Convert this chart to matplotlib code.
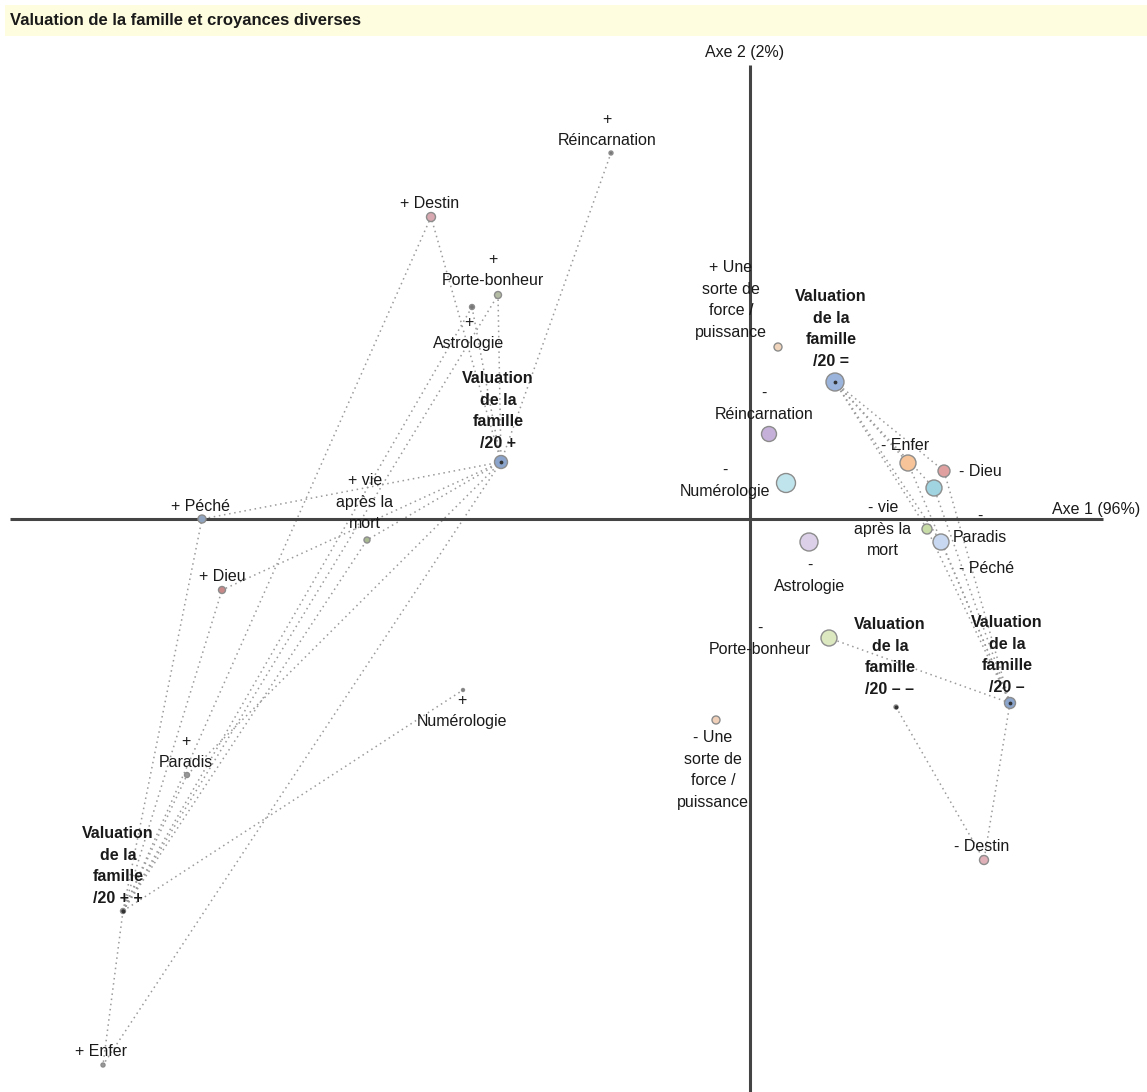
"""
Analyse des correspondances : valuation de la famille et croyances diverses.
"""
import matplotlib
matplotlib.use("Agg")
import matplotlib.pyplot as plt
import matplotlib.patches as mpatches

plt.rcParams["font.family"] = ["Liberation Sans", "DejaVu Sans"]

# -----------------------------------------------------------------------
# Data : coordonnées sur les axes 1 et 2, poids (rayon des bulles)
# -----------------------------------------------------------------------
names = [
    "Reinc+", "Destin+", "PB+", "Astro+", "V+", "Vie+", "Peche+", "Dieu+",
    "Numero+", "Paradis+", "V++", "Enfer+",
    "Force+", "V=", "Reinc-", "Numero-", "Enfer-", "Dieu-", "Peche-", "Vie-",
    "Paradis-", "Astro-", "PB-", "Force-", "V--", "V-", "Destin-",
]
labels = [
    "+\nRéincarnation", "+ Destin", "+\nPorte-bonheur", "+\nAstrologie",
    "Valuation\nde la\nfamille\n/20 +", "+ vie\naprès la\nmort", "+ Péché", "+ Dieu",
    "+\nNumérologie", "+\nParadis", "Valuation\nde la\nfamille\n/20 + +", "+ Enfer",
    "+ Une\nsorte de\nforce /\npuissance", "Valuation\nde la\nfamille\n/20 =",
    "-\nRéincarnation", "-\nNumérologie", "- Enfer", "- Dieu", "- Péché",
    "- vie\naprès la\nmort", "-\nParadis", "-\nAstrologie", "-\nPorte-bonheur",
    "- Une\nsorte de\nforce /\npuissance", "Valuation\nde la\nfamille\n/20 – –",
    "Valuation\nde la\nfamille\n/20 –", "- Destin",
]
axe1 = [
    -0.139, -0.319, -0.252, -0.278, -0.249, -0.383, -0.548, -0.528,
    -0.287, -0.563, -0.627, -0.647,
    0.028, 0.085, 0.019, 0.036, 0.158, 0.194, 0.184, 0.177,
    0.191, 0.059, 0.079, -0.034, 0.146, 0.260, 0.234,
]
axe2 = [
    0.366, 0.302, 0.224, 0.212, 0.057, -0.021, 0.000, -0.071,
    -0.171, -0.256, -0.392, -0.546,
    0.172, 0.137, 0.085, 0.036, 0.056, 0.048, 0.031, -0.010,
    -0.023, -0.023, -0.119, -0.201, -0.188, -0.184, -0.341,
]
poids = [
    2, 4.5, 3.5, 2.5, 6.5, 3, 4, 3.5,
    1.5, 2.5, 2.5, 2,
    4, 9, 7.5, 9.5, 8, 6, 8, 5,
    8, 9, 8, 4, 2, 5.5, 4.5,
]
valuation = ["V+", "V++", "V=", "V-", "V--"]

# liens entre modalités de valuation et croyances
links = [
    ("V+", "Reinc+"), ("V+", "Destin+"), ("V+", "PB+"), ("V+", "Astro+"),
    ("V+", "Vie+"), ("V+", "Peche+"), ("V+", "Dieu+"), ("V+", "Enfer+"),
    ("V+", "Paradis+"),
    ("V++", "Destin+"), ("V++", "PB+"), ("V++", "Astro+"), ("V++", "Vie+"),
    ("V++", "Peche+"), ("V++", "Dieu+"), ("V++", "Paradis+"),
    ("V++", "Numero+"), ("V++", "Enfer+"),
    ("V=", "Enfer-"), ("V=", "Dieu-"), ("V=", "Peche-"), ("V=", "Vie-"),
    ("V=", "Paradis-"),
    ("V-", "Enfer-"), ("V-", "Dieu-"), ("V-", "Peche-"), ("V-", "Vie-"),
    ("V-", "Paradis-"), ("V-", "PB-"), ("V-", "Destin-"),
    ("V--", "Destin-"),
]

# -----------------------------------------------------------------------
# Style
# -----------------------------------------------------------------------
colors = [
    "#777777", "#d8a8b0", "#b4bca4", "#777777", "#8aa4cc", "#a8b890", "#90a4c0", "#c88888",
    "#777777", "#999999", "#555555", "#999999",
    "#f0d4bc", "#9ab4dc", "#c4b0d8", "#c0e4ec", "#f6c498", "#e0a0a0", "#a0d4e0", "#c8dca8",
    "#c8d8f0", "#dccfe8", "#dce8c0", "#f0d0b8", "#555555", "#8aa4cc", "#e0b0b8",
]
# décalage des étiquettes, en pixels (dx, dy)
label_offsets = {
    "Reinc+": (-4, 23), "Destin+": (-1, 14), "PB+": (-5, 25), "Astro+": (-3, -26),
    "V+": (-3, 51), "Vie+": (-2, 38), "Peche+": (-1, 13), "Dieu+": (0, 14),
    "Numero+": (-1, -21), "Paradis+": (-1, 23), "V++": (-5, 45), "Enfer+": (-2, 13),
    "Force+": (-47, 47), "V=": (-4, 53), "Reinc-": (-5, 30), "Numero-": (-61, 2),
    "Enfer-": (-3, 18), "Dieu-": (36, 0), "Peche-": (53, -80), "Vie-": (-44, 0),
    "Paradis-": (39, 15), "Astro-": (1, -34), "PB-": (-69, -1), "Force-": (-3, -50),
    "V--": (-6, 50), "V-": (-3, 48), "Destin-": (-2, 14),
}

pos = {n: (x, y) for n, x, y in zip(names, axe1, axe2)}

fig = plt.figure(figsize=(11.47, 10.92), dpi=100)
ax = fig.add_axes((0, 0, 1, 1))
ax.set_xlim(-0.75, 0.397)
ax.set_ylim(-0.573, 0.519)
ax.axis("off")

# --- title band ---
fig.patches.append(mpatches.Rectangle((5 / 1147, 1 - 36 / 1092), 1 - 5 / 1147, 31 / 1092,
                                      transform=fig.transFigure, facecolor="#fefde0",
                                      edgecolor="none", zorder=0))
fig.text(10 / 1147, 1 - 20 / 1092, "Valuation de la famille et croyances diverses",
         fontsize=12, fontweight="bold", va="center", ha="left", color="#1a1a1a")

# --- axes ---
ax.hlines(0, -0.74, 0.353, color="#444444", lw=2.2, zorder=2)
ax.vlines(0, -0.573, 0.454, color="#444444", lw=2.2, zorder=2)
ax.text(-0.005, 0.466, "Axe 2 (2%)", ha="center", va="center", fontsize=11.5, color="#1a1a1a")
ax.text(0.39, 0.010, "Axe 1 (96%)", ha="right", va="center", fontsize=11.5, color="#1a1a1a")

# --- links ---
for a, b in links:
    (x1, y1), (x2, y2) = pos[a], pos[b]
    ax.plot([x1, x2], [y1, y2], ls=(0, (1, 2.4)), color="#9a9a9a", lw=1.1, zorder=1)

# --- bubbles ---
sizes = [(2 * r * 0.72) ** 2 for r in poids]
ax.scatter(axe1, axe2, s=sizes, c=colors, edgecolors="#8c8c8c", linewidths=1, zorder=3)
ax.scatter([pos[n][0] for n in valuation], [pos[n][1] for n in valuation],
           s=3, c="#333333", zorder=4)

# --- labels ---
for n, lab in zip(names, labels):
    dx, dy = label_offsets[n]
    ax.annotate(lab, xy=pos[n], xytext=(dx, dy), textcoords="offset pixels",
                ha="center", va="center", fontsize=11.5, linespacing=1.55,
                fontweight="bold" if n in valuation else "normal",
                color="#1a1a1a", zorder=5)

fig.savefig("out.png", dpi=100, facecolor="white")
